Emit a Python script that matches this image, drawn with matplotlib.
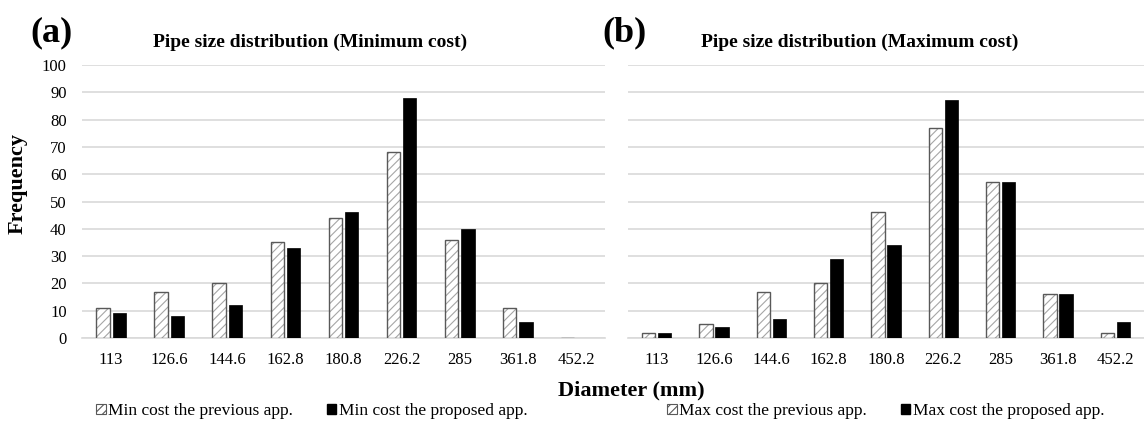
import matplotlib
matplotlib.use("Agg")
import matplotlib.pyplot as plt
import numpy as np
from matplotlib.patches import Patch

plt.rcParams['font.family'] = ['Liberation Serif', 'DejaVu Serif']
plt.rcParams['hatch.linewidth'] = 0.8

categories = ["113", "126.6", "144.6", "162.8", "180.8", "226.2", "285", "361.8", "452.2"]
min_previous = [11, 17, 20, 35, 44, 68, 36, 11, 0]
min_proposed = [9, 8, 12, 33, 46, 88, 40, 6, 0]
max_previous = [2, 5, 17, 20, 46, 77, 57, 16, 2]
max_proposed = [2, 4, 7, 29, 34, 87, 57, 16, 6]

W, H = 1144, 424
fig = plt.figure(figsize=(W / 100, H / 100), dpi=100)

def px_axes(x0, x1, y_top, y_bot):
    return fig.add_axes([x0 / W, 1 - y_bot / H, (x1 - x0) / W, (y_bot - y_top) / H])

ax1 = px_axes(82, 605, 65, 338)
ax2 = px_axes(628, 1144, 65, 338)

GRID = '#d9d9d9'
HATCH_C = '#a6a6a6'
EDGE_C = '#595959'
bw = 0.23
off = 0.141

def draw(ax, prev, prop, show_y):
    x = np.arange(len(categories))
    ax.bar(x - off, prev, width=bw, color='white', edgecolor=HATCH_C, hatch='////', linewidth=0, zorder=3)
    ax.bar(x - off, prev, width=bw, fill=False, edgecolor=EDGE_C, linewidth=1.0, zorder=4)
    ax.bar(x + off, prop, width=bw, color='black', edgecolor='black', linewidth=0.5, zorder=3)
    ax.set_xlim(-0.5, len(categories) - 0.5)
    ax.set_ylim(0, 100)
    ax.set_yticks(np.arange(0, 101, 10))
    ax.set_xticks(x)
    ax.set_xticklabels(categories, fontsize=12)
    ax.yaxis.grid(True, color=GRID, linewidth=1.2, zorder=0)
    ax.set_axisbelow(True)
    for s in ['top', 'right', 'left']:
        ax.spines[s].set_visible(False)
    ax.spines['bottom'].set_color(GRID)
    ax.spines['bottom'].set_linewidth(1.2)
    ax.tick_params(axis='both', length=0)
    ax.tick_params(axis='x', pad=10)
    ax.tick_params(axis='y', pad=11, labelsize=12)
    if not show_y:
        ax.set_yticklabels([])

draw(ax1, min_previous, min_proposed, True)
draw(ax2, max_previous, max_proposed, False)

# titles and panel letters
fig.text(51 / W, 1 - 33 / H, "(a)", fontsize=26, fontweight='bold', ha='center', va='center')
fig.text(625 / W, 1 - 33 / H, "(b)", fontsize=26, fontweight='bold', ha='center', va='center')
fig.text(310 / W, 1 - 42 / H, "Pipe size distribution (Minimum cost)", fontsize=14, fontweight='bold', ha='center', va='center')
fig.text(860 / W, 1 - 42 / H, "Pipe size distribution (Maximum cost)", fontsize=14, fontweight='bold', ha='center', va='center')

# axis labels
fig.text(18 / W, 1 - 183 / H, "Frequency", fontsize=16, fontweight='bold', rotation=90, ha='center', va='center')
fig.text(631 / W, 1 - 395 / H, "Diameter (mm)", fontsize=16, fontweight='bold', ha='center', va='baseline')

def legend(x0, labels):
    h1 = Patch(facecolor='white', edgecolor=EDGE_C, hatch='////', linewidth=0.8)
    h2 = Patch(facecolor='black', edgecolor='black')
    fig.legend([h1, h2], labels, loc='center left', bbox_to_anchor=(x0 / W, 1 - 411 / H),
               ncol=2, frameon=False, fontsize=12.5, handlelength=0.55, handleheight=0.55,
               handletextpad=0.15, columnspacing=1.95, borderpad=0, borderaxespad=0)

legend(96, ["Min cost the previous app.", "Min cost the proposed app."])
legend(667, ["Max cost the previous app.", "Max cost the proposed app."])

fig.savefig("out.png", dpi=100)
